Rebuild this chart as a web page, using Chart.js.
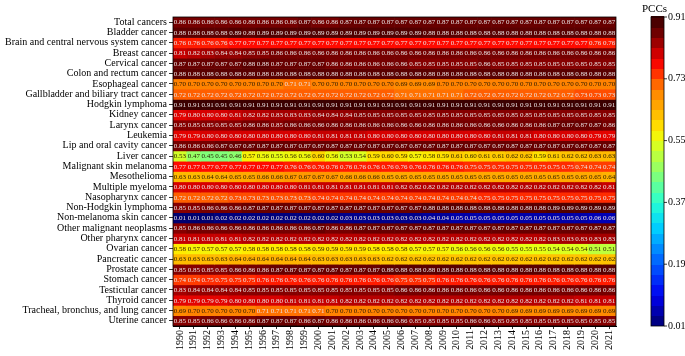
<!DOCTYPE html>
<html><head><meta charset="utf-8">
<script src="https://cdn.jsdelivr.net/npm/chart.js@4.4.1/dist/chart.umd.min.js"></script>
<style>html,body{margin:0;padding:0;background:#fff;}#wrap{width:685px;height:356px;position:relative;}</style>
</head><body><div id="wrap"><canvas id="c"></canvas></div>
<script>
const years = ['1990','1991','1992','1993','1994','1995','1996','1997','1998','1999','2000','2001','2002','2003','2004','2005','2006','2007','2008','2009','2010','2011','2012','2013','2014','2015','2016','2017','2018','2019','2020','2021'];
const cancers = ['Total cancers','Bladder cancer','Brain and central nervous system cancer','Breast cancer','Cervical cancer','Colon and rectum cancer','Esophageal cancer','Gallbladder and biliary tract cancer','Hodgkin lymphoma','Kidney cancer','Larynx cancer','Leukemia','Lip and oral cavity cancer','Liver cancer','Malignant skin melanoma','Mesothelioma','Multiple myeloma','Nasopharynx cancer','Non-Hodgkin lymphoma','Non-melanoma skin cancer','Other malignant neoplasms','Other pharynx cancer','Ovarian cancer','Pancreatic cancer','Prostate cancer','Stomach cancer','Testicular cancer','Thyroid cancer','Tracheal, bronchus, and lung cancer','Uterine cancer'];
const colorbarTicks = [0.01,0.19,0.37,0.55,0.73,0.91];

const total = [0.86,0.86,0.86,0.86,0.86,0.86,0.86,0.86,0.86,0.87,0.86,0.86,0.87,0.87,0.87,0.87,0.87,0.87,0.87,0.87,0.87,0.87,0.87,0.87,0.87,0.87,0.87,0.87,0.87,0.87,0.87,0.87];
const bladder = [0.88,0.88,0.88,0.88,0.89,0.88,0.89,0.89,0.89,0.89,0.89,0.89,0.89,0.89,0.89,0.89,0.89,0.89,0.88,0.88,0.88,0.88,0.88,0.88,0.88,0.88,0.88,0.88,0.88,0.88,0.88,0.88];
const brain = [0.76,0.76,0.76,0.76,0.77,0.77,0.77,0.77,0.77,0.77,0.77,0.77,0.77,0.77,0.77,0.77,0.77,0.77,0.77,0.77,0.77,0.77,0.77,0.77,0.77,0.77,0.77,0.77,0.77,0.77,0.76,0.76];
const breast = [0.81,0.82,0.83,0.84,0.84,0.85,0.85,0.86,0.86,0.86,0.86,0.86,0.86,0.86,0.86,0.86,0.86,0.86,0.86,0.86,0.86,0.86,0.86,0.86,0.86,0.86,0.86,0.86,0.86,0.86,0.86,0.86];
const cervical = [0.87,0.87,0.87,0.87,0.87,0.88,0.88,0.87,0.87,0.87,0.87,0.86,0.86,0.86,0.86,0.86,0.86,0.85,0.85,0.85,0.85,0.85,0.86,0.85,0.85,0.85,0.85,0.85,0.85,0.85,0.85,0.85];
const colon = [0.88,0.88,0.88,0.88,0.88,0.88,0.88,0.88,0.88,0.88,0.88,0.88,0.88,0.88,0.88,0.88,0.88,0.88,0.88,0.88,0.88,0.88,0.88,0.88,0.88,0.88,0.88,0.88,0.88,0.88,0.88,0.88];
const esophageal = [0.70,0.70,0.70,0.70,0.70,0.70,0.70,0.70,0.71,0.71,0.70,0.70,0.70,0.70,0.70,0.70,0.69,0.69,0.69,0.70,0.70,0.70,0.70,0.70,0.70,0.70,0.70,0.70,0.70,0.70,0.70,0.70];
const gallbladder = [0.72,0.72,0.72,0.72,0.72,0.72,0.72,0.72,0.72,0.72,0.72,0.72,0.72,0.72,0.72,0.72,0.71,0.71,0.71,0.71,0.71,0.72,0.72,0.72,0.72,0.72,0.72,0.72,0.72,0.73,0.73,0.73];
const hodgkin = [0.91,0.91,0.91,0.91,0.91,0.91,0.91,0.91,0.91,0.91,0.91,0.91,0.91,0.91,0.91,0.91,0.91,0.91,0.91,0.91,0.91,0.91,0.91,0.91,0.91,0.91,0.91,0.91,0.91,0.91,0.91,0.91];
const kidney = [0.79,0.80,0.80,0.80,0.81,0.82,0.82,0.83,0.83,0.83,0.84,0.84,0.84,0.85,0.85,0.85,0.85,0.85,0.85,0.85,0.85,0.85,0.85,0.85,0.85,0.85,0.85,0.85,0.85,0.85,0.85,0.85];
const larynx = [0.85,0.85,0.85,0.85,0.85,0.86,0.86,0.85,0.86,0.86,0.86,0.86,0.86,0.86,0.86,0.86,0.86,0.86,0.86,0.86,0.86,0.86,0.86,0.86,0.86,0.86,0.86,0.87,0.87,0.87,0.87,0.86];
const leukemia = [0.79,0.79,0.80,0.80,0.80,0.80,0.80,0.80,0.80,0.80,0.81,0.81,0.81,0.81,0.80,0.80,0.80,0.80,0.80,0.80,0.80,0.80,0.80,0.81,0.81,0.81,0.80,0.80,0.80,0.80,0.79,0.79];
const lip = [0.86,0.86,0.86,0.87,0.87,0.87,0.87,0.87,0.87,0.87,0.87,0.87,0.87,0.87,0.87,0.87,0.87,0.87,0.87,0.87,0.87,0.87,0.87,0.87,0.87,0.87,0.87,0.87,0.87,0.87,0.87,0.87];
const liver = [0.53,0.47,0.45,0.45,0.46,0.57,0.56,0.55,0.56,0.56,0.60,0.56,0.53,0.54,0.59,0.60,0.59,0.57,0.58,0.59,0.61,0.60,0.61,0.61,0.62,0.62,0.59,0.61,0.62,0.62,0.63,0.63];
const melanoma = [0.77,0.77,0.77,0.77,0.77,0.77,0.77,0.77,0.76,0.76,0.76,0.76,0.76,0.76,0.76,0.76,0.76,0.76,0.76,0.76,0.76,0.75,0.75,0.75,0.75,0.75,0.75,0.75,0.75,0.74,0.74,0.74];
const mesothelioma = [0.63,0.63,0.64,0.64,0.65,0.65,0.66,0.66,0.67,0.67,0.67,0.67,0.66,0.66,0.66,0.65,0.65,0.65,0.65,0.65,0.65,0.65,0.65,0.65,0.65,0.65,0.65,0.65,0.65,0.65,0.65,0.64];
const myeloma = [0.80,0.80,0.80,0.80,0.80,0.80,0.80,0.80,0.80,0.81,0.81,0.81,0.81,0.81,0.81,0.81,0.82,0.82,0.82,0.82,0.82,0.82,0.82,0.82,0.82,0.82,0.82,0.82,0.82,0.82,0.82,0.81];
const nasopharynx = [0.72,0.72,0.72,0.72,0.73,0.73,0.73,0.73,0.73,0.73,0.74,0.74,0.74,0.74,0.74,0.74,0.74,0.74,0.74,0.74,0.74,0.74,0.75,0.75,0.75,0.75,0.75,0.75,0.75,0.75,0.75,0.75];
const nonHodgkin = [0.85,0.85,0.86,0.86,0.86,0.87,0.87,0.87,0.87,0.87,0.87,0.87,0.87,0.87,0.87,0.87,0.87,0.87,0.88,0.88,0.88,0.88,0.88,0.88,0.88,0.88,0.88,0.89,0.89,0.89,0.89,0.89];
const nonMelanomaSkin = [0.01,0.01,0.01,0.02,0.02,0.02,0.02,0.02,0.02,0.02,0.02,0.02,0.03,0.03,0.03,0.03,0.03,0.03,0.04,0.04,0.05,0.05,0.05,0.05,0.05,0.05,0.05,0.05,0.05,0.05,0.06,0.06];
const otherMalignant = [0.85,0.86,0.86,0.86,0.86,0.86,0.86,0.86,0.86,0.86,0.87,0.86,0.86,0.87,0.87,0.87,0.87,0.87,0.87,0.87,0.87,0.87,0.87,0.87,0.87,0.87,0.87,0.87,0.87,0.87,0.87,0.87];
const otherPharynx = [0.81,0.81,0.81,0.81,0.81,0.82,0.82,0.82,0.82,0.82,0.82,0.82,0.82,0.82,0.82,0.82,0.82,0.82,0.82,0.82,0.82,0.82,0.82,0.82,0.82,0.82,0.82,0.83,0.83,0.83,0.83,0.83];
const ovarian = [0.58,0.57,0.57,0.57,0.57,0.58,0.58,0.58,0.58,0.58,0.59,0.59,0.59,0.59,0.58,0.58,0.58,0.57,0.57,0.57,0.56,0.56,0.56,0.56,0.55,0.55,0.55,0.54,0.54,0.54,0.51,0.51];
const pancreatic = [0.63,0.63,0.63,0.63,0.64,0.64,0.64,0.64,0.64,0.64,0.63,0.63,0.63,0.63,0.63,0.62,0.62,0.62,0.62,0.62,0.62,0.62,0.62,0.62,0.62,0.62,0.62,0.62,0.62,0.62,0.62,0.62];
const prostate = [0.85,0.85,0.85,0.85,0.86,0.86,0.86,0.87,0.87,0.87,0.87,0.87,0.87,0.87,0.87,0.88,0.88,0.88,0.88,0.88,0.88,0.88,0.88,0.88,0.88,0.88,0.88,0.88,0.88,0.88,0.88,0.88];
const stomach = [0.74,0.74,0.75,0.75,0.75,0.75,0.76,0.76,0.76,0.76,0.76,0.76,0.76,0.76,0.76,0.76,0.75,0.75,0.75,0.76,0.76,0.76,0.76,0.76,0.76,0.76,0.76,0.76,0.76,0.76,0.76,0.76];
const testicular = [0.83,0.84,0.84,0.84,0.84,0.85,0.85,0.85,0.85,0.85,0.85,0.85,0.85,0.85,0.85,0.85,0.86,0.86,0.86,0.86,0.86,0.86,0.86,0.86,0.86,0.86,0.86,0.86,0.86,0.86,0.86,0.86];
const thyroid = [0.79,0.79,0.79,0.79,0.80,0.80,0.80,0.80,0.81,0.81,0.81,0.81,0.82,0.82,0.82,0.82,0.82,0.82,0.82,0.82,0.82,0.82,0.82,0.82,0.82,0.82,0.82,0.82,0.82,0.81,0.81,0.81];
const tracheal = [0.69,0.70,0.70,0.70,0.70,0.70,0.71,0.71,0.71,0.71,0.71,0.70,0.70,0.70,0.70,0.70,0.70,0.70,0.70,0.70,0.70,0.70,0.70,0.70,0.69,0.69,0.69,0.69,0.69,0.69,0.69,0.69];
const uterine = [0.85,0.85,0.86,0.86,0.86,0.86,0.87,0.87,0.87,0.86,0.87,0.86,0.86,0.86,0.86,0.86,0.86,0.85,0.85,0.85,0.85,0.86,0.86,0.85,0.85,0.85,0.85,0.85,0.85,0.85,0.85,0.85];

const rows = [total,bladder,brain,breast,cervical,colon,esophageal,gallbladder,hodgkin,kidney,larynx,leukemia,lip,liver,melanoma,mesothelioma,myeloma,nasopharynx,nonHodgkin,nonMelanomaSkin,otherMalignant,otherPharynx,ovarian,pancreatic,prostate,stomach,testicular,thyroid,tracheal,uterine];

// colormap stops (value -> rgb)
const cmapStops = [
  [0.01,[0,0,110]],[0.10,[0,0,240]],[0.19,[0,90,255]],[0.30,[0,210,255]],[0.37,[40,255,210]],
  [0.46,[140,255,110]],[0.51,[190,255,60]],[0.55,[230,255,20]],[0.58,[255,235,0]],[0.62,[255,195,0]],
  [0.66,[255,160,0]],[0.70,[255,130,0]],[0.72,[255,95,0]],[0.74,[255,60,0]],[0.77,[255,10,0]],
  [0.80,[215,0,0]],[0.83,[165,0,0]],[0.86,[118,0,0]],[0.88,[90,0,0]],[0.91,[60,0,0]]
];
function cmap(v){
  if (v<=cmapStops[0][0]) return 'rgb('+cmapStops[0][1].join(',')+')';
  for (let k=1;k<cmapStops.length;k++){
    const [v1,c1]=cmapStops[k];
    if (v<=v1+1e-9){
      const [v0,c0]=cmapStops[k-1];
      const t=(v-v0)/(v1-v0);
      const c=c0.map((a,i)=>Math.round(a+(c1[i]-a)*t));
      return 'rgb('+c.join(',')+')';
    }
  }
  return 'rgb('+cmapStops[cmapStops.length-1][1].join(',')+')';
}
function textColor(v){ return (v>=0.705 || v<=0.2) ? '#e9e4e4' : '#2a1a00'; }

const FONT = '"Liberation Serif","Times New Roman",serif';

const datasets = rows.map((vals,i)=>({
  label: cancers[i],
  data: vals.map((v,j)=>({x: years[j], y: [i-0.5, i+0.5]})),
  backgroundColor: vals.map(v=>cmap(v)),
  borderWidth: 0,
  grouped: false,
  barPercentage: 1,
  categoryPercentage: 1
}));

const overlay = {
  id: 'overlay',
  afterDatasetsDraw(chart){
    const {ctx, chartArea: a} = chart;
    const xs = chart.scales.x, ys = chart.scales.y;
    ctx.save();
    ctx.font = '7px ' + FONT;
    ctx.textAlign = 'center';
    ctx.textBaseline = 'middle';
    rows.forEach((vals,i)=>{
      const py = ys.getPixelForValue(i);
      vals.forEach((v,j)=>{
        const px = xs.getPixelForValue(j);
        ctx.fillStyle = textColor(v);
        ctx.fillText(v.toFixed(2), px, py+0.5);
      });
    });
    ctx.strokeStyle = '#000';
    ctx.lineWidth = 0.8;
    ctx.strokeRect(a.left, a.top, a.right-a.left, a.bottom-a.top);

    // colorbar
    const cbL = 651, cbW = 13, cbT = a.top, cbB = a.bottom;
    const vmin = colorbarTicks[0], vmax = colorbarTicks[colorbarTicks.length-1];
    const toY = v => cbB - (v - vmin)/(vmax - vmin)*(cbB - cbT);
    const nSteps = 30, step = (vmax - vmin)/nSteps;
    for (let k=0;k<nSteps;k++){
      const lo = vmin + k*step, hi = lo + step;
      ctx.fillStyle = cmap((lo+hi)/2);
      const y0 = toY(hi), y1 = toY(lo);
      ctx.fillRect(cbL, Math.floor(y0), cbW, Math.ceil(y1)-Math.floor(y0));
    }
    ctx.strokeStyle = '#000';
    ctx.lineWidth = 0.8;
    ctx.strokeRect(cbL, cbT, cbW, cbB-cbT);
    ctx.font = '10px ' + FONT;
    ctx.fillStyle = '#000';
    ctx.textAlign = 'left';
    ctx.textBaseline = 'middle';
    colorbarTicks.forEach(t=>{
      const y = toY(t);
      ctx.beginPath();
      ctx.moveTo(cbL+cbW, y); ctx.lineTo(cbL+cbW+3, y);
      ctx.stroke();
      ctx.fillText(t.toFixed(2), cbL+cbW+4, y);
    });
    ctx.font = '11px ' + FONT;
    ctx.textAlign = 'center';
    ctx.fillText('PCCs', cbL+cbW/2-3, 9);
    ctx.restore();
  }
};

new Chart(document.getElementById('c'), {
  type: 'bar',
  data: { labels: years, datasets },
  options: {
    responsive: true,
    maintainAspectRatio: false,
    animation: false,
    layout: { padding: { top: 17, right: 69, bottom: 0, left: 0 } },
    plugins: { legend: { display: false }, tooltip: { enabled: false } },
    scales: {
      x: {
        type: 'category',
        offset: true,
        grid: { display: true, drawOnChartArea: false, drawTicks: true, tickLength: 3, offset: false, color: '#333' },
        border: { display: true, color: '#000' },
        ticks: { autoSkip: false, minRotation: 90, maxRotation: 90, color: '#000', font: { family: FONT, size: 10 }, padding: 1 },
        afterFit(s){ s.height = 30; }
      },
      y: {
        type: 'linear',
        min: -0.5, max: 29.5,
        reverse: true,
        grid: { display: true, drawOnChartArea: false, drawTicks: true, tickLength: 4, color: '#333' },
        border: { display: true, color: '#000' },
        afterBuildTicks(s){ s.ticks = cancers.map((_,i)=>({value:i})); },
        ticks: { autoSkip: false, color: '#000', font: { family: FONT, size: 10 }, padding: 2,
          callback: v => cancers[v] },
        afterFit(s){ s.width = 173; }
      }
    }
  },
  plugins: [overlay]
});
</script></body></html>
